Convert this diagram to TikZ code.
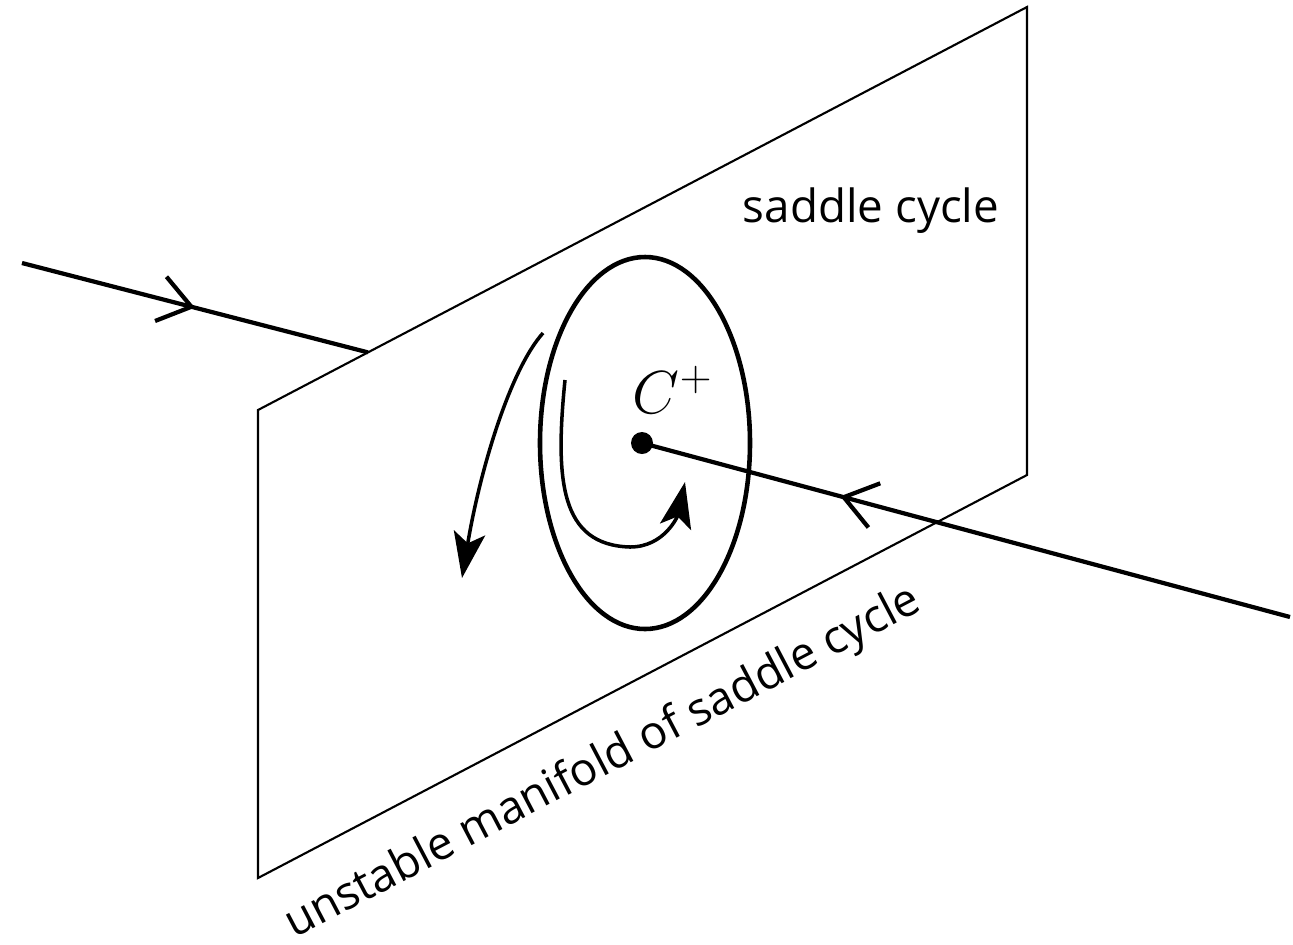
\documentclass[tikz,border=0pt]{standalone}
\usepackage{amsmath}
\usepackage{fontspec}
\usetikzlibrary{arrows.meta,decorations.markings,calc}
\newfontfamily\labelfont{Open Sans}

\tikzset{
  barb/.tip={Straight Barb[length=9pt,width=13pt]},
  head/.tip={Stealth[length=13pt,width=9pt,inset=3pt]},
  plane/.style={line width=0.6pt},
  orbit/.style={line width=1.2pt},
  spiral/.style={line width=1pt},
  markfwd/.style={postaction={decorate},decoration={markings,mark=at position #1 with {\arrow{barb}}}},
  markrev/.style={postaction={decorate},decoration={markings,mark=at position #1 with {\arrowreversed{barb}}}},
  lbl/.style={font=\labelfont\fontsize{13}{16}\selectfont,inner sep=0pt}
}

\begin{document}
\begin{tikzpicture}[x=0.01cm,y=-0.01cm]
\useasboundingbox (0,0) rectangle (1293,944);
% the plane
\coordinate (ptl) at (258,410);
\coordinate (ptr) at (1027,7);
\coordinate (pbr) at (1027,475);
\coordinate (pbl) at (258,878);
\draw[plane] (ptl)--(ptr)--(pbr)--(pbl)--cycle;
% orbits through the plane
\coordinate (inL) at (22,263);
\coordinate (hitL) at ($(ptl)!0.143!(ptr)$);
\coordinate (cp) at (642,443);
\coordinate (outR) at (1290,617);
\draw[orbit,markfwd=0.5] (inL)--(hitL);
\draw[orbit,markrev=0.306] (cp)--(outR);
\fill (cp) circle[radius=11];
\draw[line width=1.3pt] (645,443) ellipse[x radius=105,y radius=186];
\draw[spiral,-head] (565,380) .. controls (555,480) and (560,545) .. (630,547) .. controls (665,547) and (678,515) .. (685,482);
\draw[spiral,-head] (543,333) .. controls (510,370) and (480,470) .. (462,578);
\node[anchor=base west,inner sep=0pt,font=\fontsize{17}{20}\selectfont] (cplus) at (632,413) {$C^+$};
\node[lbl,anchor=base] (sc) at (871,222) {saddle cycle};
\node[lbl,anchor=base,rotate=27.66] (um) at (609,774) {unstable manifold of saddle cycle};
\end{tikzpicture}
\end{document}
